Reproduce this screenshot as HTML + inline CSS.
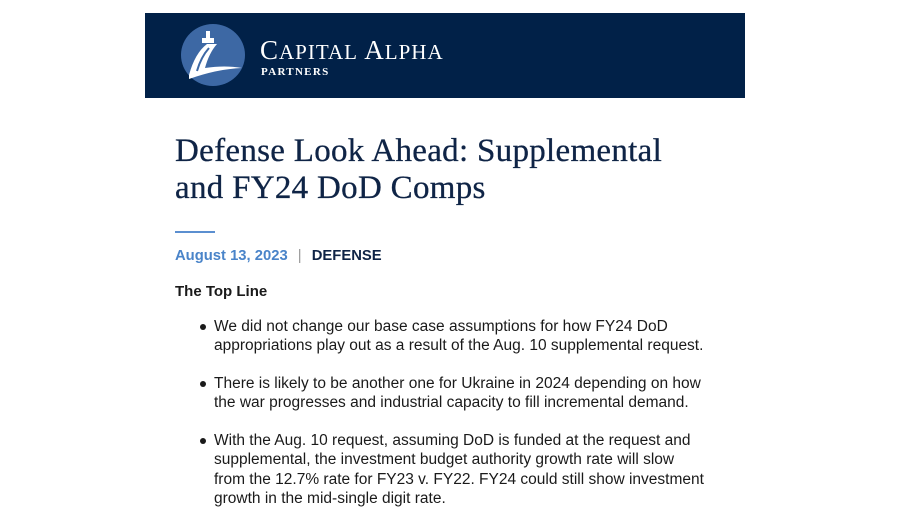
<!DOCTYPE html>
<html><head><style>
body{margin:0;width:915px;height:525px;background:#fff;overflow:hidden;position:relative;font-family:"Liberation Sans",sans-serif;}
.banner{position:absolute;left:145px;top:13px;width:600px;height:85px;background:#012148;}
.t{position:absolute;white-space:nowrap;}
h1{position:absolute;left:175px;top:133px;margin:0;font-family:"Liberation Serif",serif;font-weight:normal;font-size:33px;letter-spacing:0.3px;line-height:37px;color:#0f2446;-webkit-text-stroke:0.3px #0f2446;}
.b{position:absolute;left:214px;font-size:15.5px;line-height:19.3px;color:#1a1a1a;}
.b:before{content:"";position:absolute;left:-14px;top:7px;width:6px;height:6px;border-radius:50%;background:#1a1a1a;}
</style></head><body>
<div class="banner">
<svg width="600" height="85" style="position:absolute;left:0;top:0">
<ellipse cx="68" cy="42" rx="32" ry="31" fill="#3d68a4"/>
<rect x="61" y="18" width="4" height="7" fill="#fff"/>
<rect x="57" y="25" width="12" height="5" fill="#fff"/>
<path d="M44 62 Q50 40 62 31 L72 31 Q64 40 60 55 Q80 52 97 55 Q72 56 44 66 Z" fill="#fff"/>
<path d="M52 58 Q56 44 64 35" stroke="#3d68a4" stroke-width="2" fill="none"/>
<text x="115" y="46" fill="#fff" font-family="Liberation Serif,serif" font-size="27" letter-spacing="1">C<tspan font-size="21">APITAL</tspan> A<tspan font-size="21">LPHA</tspan></text>
<text x="116" y="62" fill="#fff" font-family="Liberation Serif,serif" font-size="11" font-weight="bold" letter-spacing="1.3">PARTNERS</text>
</svg>
</div>
<h1>Defense Look Ahead: Supplemental<br>and FY24 DoD Comps</h1>
<div style="position:absolute;left:175px;top:231px;width:40px;height:2px;background:#5b8fd0"></div>
<div class="t" style="left:175px;top:248px;font-size:14.8px;font-weight:bold;color:#4a84c9">August 13, 2023 <span style="color:#999;font-weight:normal;margin:0 6px">|</span> <span style="color:#0f2446">DEFENSE</span></div>
<div class="t" style="left:175px;top:283px;font-size:15px;font-weight:bold;color:#1a1a1a">The Top Line</div>
<div class="b" style="top:317px">We did not change our base case assumptions for how FY24 DoD<br>appropriations play out as a result of the Aug. 10 supplemental request.</div>
<div class="b" style="top:374px">There is likely to be another one for Ukraine in 2024 depending on how<br>the war progresses and industrial capacity to fill incremental demand.</div>
<div class="b" style="top:431px">With the Aug. 10 request, assuming DoD is funded at the request and<br>supplemental, the investment budget authority growth rate will slow<br>from the 12.7% rate for FY23 v. FY22. FY24 could still show investment<br>growth in the mid-single digit rate.</div>
</body></html>
